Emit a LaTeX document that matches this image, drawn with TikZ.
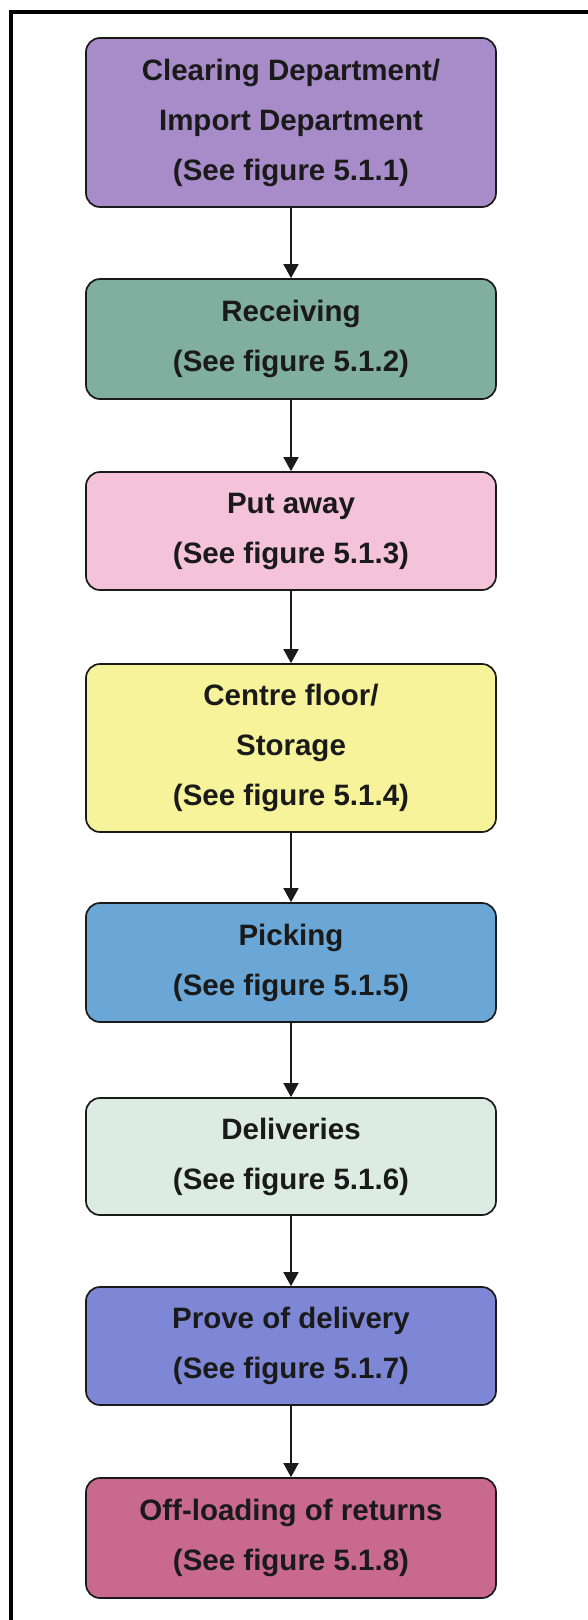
\documentclass[tikz,border=0pt]{standalone}
\usepackage{fontspec}
\setmainfont{Liberation Sans}
\usetikzlibrary{arrows.meta}

\definecolor{cPurple}{HTML}{A78CC9}
\definecolor{cTeal}{HTML}{80AE9F}
\definecolor{cPink}{HTML}{F4C3D9}
\definecolor{cYellow}{HTML}{F6F39B}
\definecolor{cBlue}{HTML}{6BA7D6}
\definecolor{cMint}{HTML}{DCECE2}
\definecolor{cPeri}{HTML}{7E87D6}
\definecolor{cRose}{HTML}{C96A8C}
\definecolor{cInk}{HTML}{1A1A1A}

\tikzset{
  stage/.style={rectangle, rounded corners=14pt, draw=cInk, line width=1.7pt,
    minimum width=410pt, inner sep=0pt, align=center, text=cInk,
    font={\fontsize{29.5}{50}\selectfont\bfseries}},
  flow/.style={draw=cInk, line width=1.5pt, -{Triangle[length=14pt,width=15pt]}},
  frameline/.style={draw=black, line width=3.2pt}
}

\begin{document}
\begin{tikzpicture}[x=1pt,y=-1pt]
  \useasboundingbox[fill=white] (0,0) rectangle (587,1620);
  % outer frame (left and top edges)
  \draw[frameline] (11,1625) -- (11,12) -- (592,12);

  \node[stage, fill=cPurple, minimum height=169pt] (s1) at (291,122.5)
    {Clearing Department/\\Import Department\\(See figure 5.1.1)};
  \node[stage, fill=cTeal, minimum height=120pt] (s2) at (291,339)
    {Receiving\\(See figure 5.1.2)};
  \node[stage, fill=cPink, minimum height=118pt] (s3) at (291,531)
    {Put away\\(See figure 5.1.3)};
  \node[stage, fill=cYellow, minimum height=168pt] (s4) at (291,748)
    {Centre floor/\\Storage\\(See figure 5.1.4)};
  \node[stage, fill=cBlue, minimum height=119pt] (s5) at (291,962.5)
    {Picking\\(See figure 5.1.5)};
  \node[stage, fill=cMint, minimum height=117pt] (s6) at (291,1156.5)
    {Deliveries\\(See figure 5.1.6)};
  \node[stage, fill=cPeri, minimum height=118pt] (s7) at (291,1346)
    {Prove of delivery\\(See figure 5.1.7)};
  \node[stage, fill=cRose, minimum height=120pt] (s8) at (291,1538)
    {Off-loading of returns\\(See figure 5.1.8)};

  \draw[flow] (s1) -- (s2);
  \draw[flow] (s2) -- (s3);
  \draw[flow] (s3) -- (s4);
  \draw[flow] (s4) -- (s5);
  \draw[flow] (s5) -- (s6);
  \draw[flow] (s6) -- (s7);
  \draw[flow] (s7) -- (s8);
\end{tikzpicture}
\end{document}
